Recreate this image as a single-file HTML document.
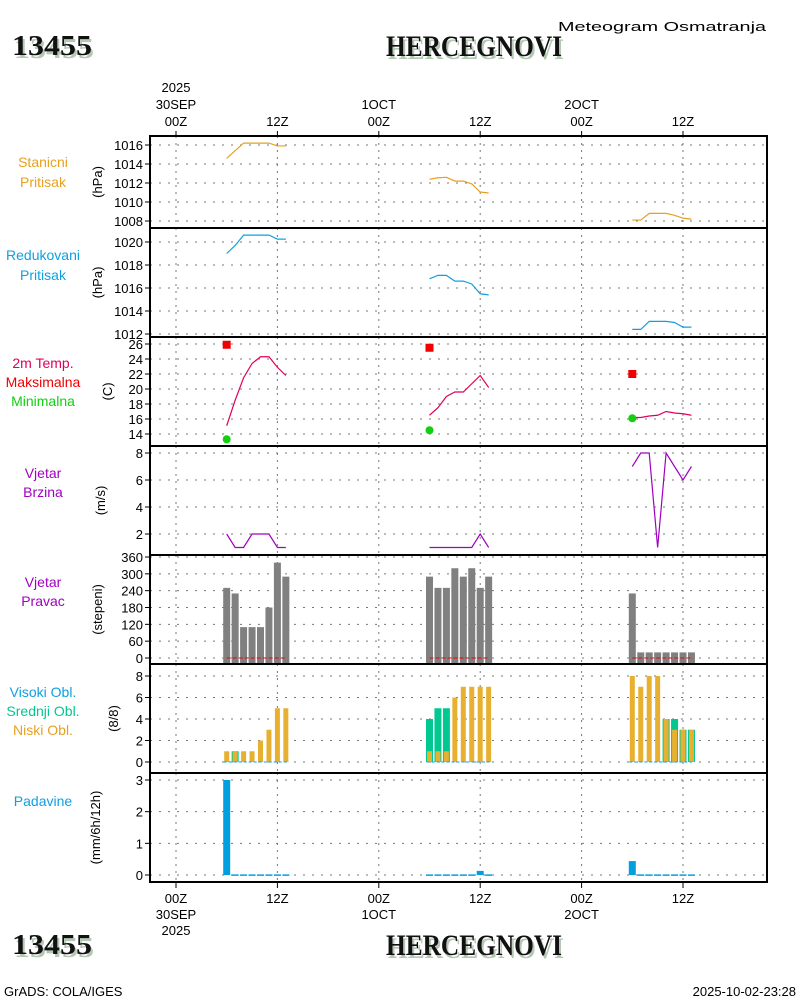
<!DOCTYPE html>
<html><head><meta charset="utf-8"><style>
html,body{margin:0;padding:0;background:#fff;width:800px;height:1000px;overflow:hidden}
svg{display:block}
text{font-family:"Liberation Sans",sans-serif}
.t{font-size:13px;fill:#000}
.ttl{font-family:"Liberation Serif",serif;font-weight:bold}
</style></head><body>
<svg id="c" width="800" height="1000" xmlns="http://www.w3.org/2000/svg"></svg>
<script>
// ---- data (hours 06..13 UTC each day) ----
const hours = [6,7,8,9,10,11,12,13];
const dayOffsets = [0,24,48];
const stnPres = [[1014.6,1015.4,1016.2,1016.2,1016.2,1016.2,1015.9,1015.9],[1012.4,1012.55,1012.6,1012.2,1012.2,1011.9,1011.05,1010.95],[1008.1,1008.1,1008.8,1008.8,1008.8,1008.6,1008.3,1008.2]];
const redPres = [[1019.0,1019.7,1020.6,1020.6,1020.6,1020.6,1020.25,1020.25],[1016.8,1017.1,1017.1,1016.6,1016.6,1016.35,1015.5,1015.4],[1012.4,1012.4,1013.1,1013.1,1013.1,1013.0,1012.6,1012.6]];
const temp2m = [[15.1,18.5,21.5,23.4,24.3,24.3,22.9,21.8],[16.5,17.5,19.0,19.6,19.6,20.7,21.8,20.2],[16.2,16.2,16.4,16.5,17.0,16.8,16.7,16.5]];
const tMax = [25.9,25.5,22.0];
const tMin = [13.3,14.5,16.1];
const windSpd = [[2,1,1,2,2,2,1,1],[1,1,1,1,1,1,2,1],[7,8,8,1,8,7,6,7]];
const windDir = [[250,230,110,110,110,180,340,290],[290,250,250,320,290,320,250,290],[230,20,20,20,20,20,20,20]];
const lowCld = [[1,1,1,1,2,3,5,5],[1,1,1,6,7,7,7,7],[8,7,8,8,4,3,3,3]];
const midCld = [[0,1,0,0,0,0,0,0],[4,5,5,0,0,0,0,0],[0,0,0,0,4,4,3,3]];
const precip = [[3.0,0.02,0.02,0.02,0.02,0.02,0.02,0.02],[0.02,0.02,0.02,0.02,0.02,0.02,0.13,0.02],[0.44,0.02,0.02,0.02,0.02,0.02,0.02,0.02]];
const presTicks = [1008,1010,1012,1014,1016];
const redTicks = [1012,1014,1016,1018,1020];
const tempTicks = [14,16,18,20,22,24,26];
const spdTicks = [2,4,6,8];
const dirTicks = [0,60,120,180,240,300,360];
const cldTicks = [0,2,4,6,8];
const prTicks = [0,1,2,3];
const timeTicksTop = [["2025","30SEP","00Z"],["","","12Z"],["","1OCT","00Z"],["","","12Z"],["","2OCT","00Z"],["","","12Z"]];
const timeTicksBot = [["00Z","30SEP","2025"],["12Z","",""],["00Z","1OCT",""],["12Z","",""],["00Z","2OCT",""],["12Z","",""]];

const NS="http://www.w3.org/2000/svg";
const svg=document.getElementById('c');
function mk(tag,at,parent){const e=document.createElementNS(NS,tag);for(const k in at)e.setAttribute(k,at[k]);(parent||svg).appendChild(e);return e;}
const X0=150,X1=767;
const xT=h=>176+h*8.45;
function lin(v0,y0,v1,y1){return v=>y0+(v-v0)*(y1-y0)/(v1-v0);}
const panels=[
 {top:136,bot:228,y:lin(1008,221,1016,145),ticks:presTicks,unit:"(hPa)",name:"station-pressure",ux:102},
 {top:228,bot:337,y:lin(1012,334,1020,242),ticks:redTicks,unit:"(hPa)",name:"reduced-pressure",ux:102},
 {top:337,bot:446,y:lin(14,434,26,344),ticks:tempTicks,unit:"(C)",name:"temperature",ux:112},
 {top:446,bot:555,y:lin(2,534,8,453),ticks:spdTicks,unit:"(m/s)",name:"wind-speed",ux:105},
 {top:555,bot:664,y:lin(0,658,360,557),ticks:dirTicks,unit:"(stepeni)",name:"wind-direction",ux:102},
 {top:664,bot:773,y:lin(0,762,8,676),ticks:cldTicks,unit:"(8/8)",name:"cloud-cover",ux:118},
 {top:773,bot:882,y:lin(0,875,3,780),ticks:prTicks,unit:"(mm/6h/12h)",name:"precipitation",ux:100}];

// titles
function title(x,y,txt,w,fs,nm){
 const s=mk('text',{x:x+2,y:y+3,'font-size':fs,fill:'#b4c8b4',class:'ttl',textLength:w,lengthAdjust:'spacingAndGlyphs'});s.textContent=txt;
 
 
 const t=mk('text',{x:x,y:y,'font-size':fs,fill:'#111',class:'ttl',textLength:w,lengthAdjust:'spacingAndGlyphs'});t.textContent=txt;
 
 
}
title(12,55,"13455",80,28,'station-id-top');
title(386,56,"HERCEGNOVI",176,30,'station-name-top');
title(12,954,"13455",80,28,'station-id-bottom');
title(386,955,"HERCEGNOVI",176,30,'station-name-bottom');
let st=mk('text',{x:558,y:31,class:'t','font-size':'16',textLength:208,lengthAdjust:'spacingAndGlyphs'});st.textContent="Meteogram Osmatranja";


let ft=mk('text',{x:4,y:996,class:'t','font-size':'11'});ft.textContent="GrADS: COLA/IGES";


let fd=mk('text',{x:796,y:996,class:'t','font-size':'11','text-anchor':'end'});fd.textContent="2025-10-02-23:28";



// time labels
timeTicksTop.forEach((lb,i)=>{const x=xT(i*12);
 lb.forEach((s,j)=>{if(!s)return;const t=mk('text',{x:x,y:[92,109,126][j],class:'t','text-anchor':'middle','font-size':14});t.textContent=s;
 
 });
 mk('line',{x1:x,x2:x,y1:136,y2:131,stroke:'#000','stroke-width':1});
 mk('line',{x1:x,x2:x,y1:882,y2:888,stroke:'#000','stroke-width':1});});
timeTicksBot.forEach((lb,i)=>{const x=xT(i*12);
 lb.forEach((s,j)=>{if(!s)return;const t=mk('text',{x:x,y:[903,919,935][j],class:'t','text-anchor':'middle','font-size':14});t.textContent=s;
 
 });});

// left labels
const leftLabels=[
 [[ "Stanicni",'#e8a020',167],["Pritisak",'#e8a020',187]],
 [["Redukovani",'#10a0e0',260],["Pritisak",'#10a0e0',280]],
 [["2m Temp.",'#e0005a',368],["Maksimalna",'#f00000',387],["Minimalna",'#10d010',406]],
 [["Vjetar",'#a000c0',478],["Brzina",'#a000c0',497]],
 [["Vjetar",'#a000c0',587],["Pravac",'#a000c0',606]],
 [["Visoki Obl.",'#10a0e0',697],["Srednji Obl.",'#00c890',716],["Niski Obl.",'#e8a020',735]],
 [["Padavine",'#10a0e0',806]]];
leftLabels.forEach(g=>g.forEach(([s,c,y])=>{const t=mk('text',{x:43,y:y,'text-anchor':'middle','font-size':14,fill:c});t.textContent=s;
 
 }));

// panels
panels.forEach((p,pi)=>{
 const g=mk('g',{});
 
 
 for(let i=0;i<6;i++){const x=xT(i*12);mk('line',{x1:x,x2:x,y1:p.top,y2:p.bot,stroke:'#777','stroke-dasharray':'2,5'},g);}
 p.ticks.forEach(v=>{const y=p.y(v);
  mk('line',{x1:X0,x2:X1,y1:y,y2:y,stroke:'#777','stroke-dasharray':'2,7'},g);
  mk('line',{x1:X0,x2:X0-5,y1:y,y2:y,stroke:'#000'},g);
  const t=mk('text',{x:X0-7,y:y+5,class:'t','text-anchor':'end','font-size':14},g);t.textContent=v;
  
  });
 const cy=(p.top+p.bot)/2;
 const u=mk('text',{x:0,y:0,class:'t','text-anchor':'middle','font-size':15,transform:`translate(${p.ux},${cy}) rotate(-90)`},g);u.textContent=p.unit;
 
 
 p.g=g;
});

function line(arr,p,col,nm){arr.forEach((d,di)=>{const pts=d.map((v,i)=>xT(dayOffsets[di]+hours[i])+','+p.y(v)).join(' ');
 const l=mk('polyline',{points:pts,fill:'none',stroke:col,'stroke-width':1.2});
 
 });}
line(stnPres,panels[0],'#e8a020','station-pressure-line');
line(redPres,panels[1],'#10a0e0','reduced-pressure-line');
line(temp2m,panels[2],'#e0005a','temperature-line');
tMax.forEach((v,i)=>{const r=mk('rect',{x:xT(dayOffsets[i]+6)-4,y:panels[2].y(v)-4,width:8,height:8,fill:'#f00000'});
 
 });
tMin.forEach((v,i)=>{const c=mk('circle',{cx:xT(dayOffsets[i]+6),cy:panels[2].y(v),r:4,fill:'#10d010'});
 
 });
line(windSpd,panels[3],'#a000c0','wind-speed-line');
windDir.forEach((d,di)=>{d.forEach((v,i)=>{const p=panels[4];const x=xT(dayOffsets[di]+hours[i]);const y=p.y(v);
 const r=mk('rect',{x:x-3.5,y:y,width:7,height:p.bot-y,fill:'#808080'});
 
 });
 const p=panels[4];mk('line',{x1:xT(dayOffsets[di]+6),x2:xT(dayOffsets[di]+13),y1:p.y(0),y2:p.y(0),stroke:'#f00000','stroke-dasharray':'4,2','stroke-width':1});});
[0,1,2].forEach(di=>{const p=panels[5];
 hours.forEach((h,i)=>{const x=xT(dayOffsets[di]+h);
  if(midCld[di][i]>0){const y=p.y(midCld[di][i]);const r=mk('rect',{x:x-3.5,y:y,width:7,height:p.y(0)-y,fill:'#00c890'});
   
   }
  const y=p.y(lowCld[di][i]);const r=mk('rect',{x:x-2.5,y:y,width:5,height:p.y(0)-y,fill:'#e8b030'});
  
  });
 mk('line',{x1:xT(dayOffsets[di]+6)-3,x2:xT(dayOffsets[di]+13)+3,y1:p.y(0),y2:p.y(0),stroke:'#10a0e0','stroke-dasharray':'3,2'});});
precip.forEach((d,di)=>d.forEach((v,i)=>{const p=panels[6];const x=xT(dayOffsets[di]+hours[i]);const y=p.y(v);
 const r=mk('rect',{x:x-3.5,y:y,width:7,height:Math.max(1.5,p.y(0)-y),fill:'#00a0e0'});
 
 }));

// frames
panels.forEach(p=>{const r=mk('rect',{x:X0,y:p.top,width:X1-X0,height:p.bot-p.top,fill:'none',stroke:'#000','stroke-width':2});
 
 });
</script>
</body></html>
